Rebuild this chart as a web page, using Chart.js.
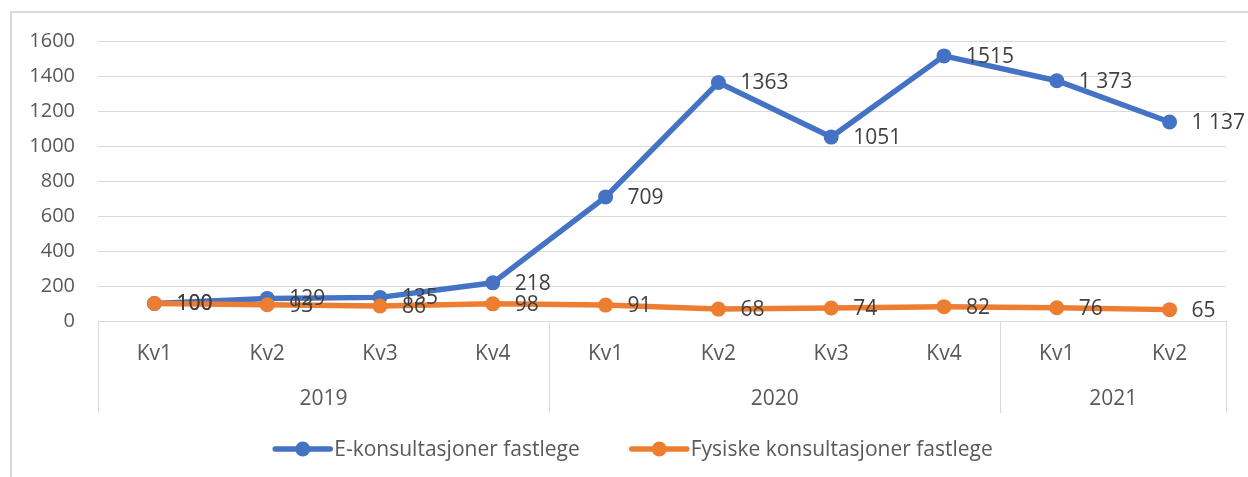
<!DOCTYPE html>
<html>
<head>
<meta charset="utf-8">
<script src="https://cdn.jsdelivr.net/npm/chart.js@4/dist/chart.umd.min.js"></script>
<style>
    html, body { margin: 0; padding: 0; background: #fff; }
    #wrap { position: relative; width: 1248px; height: 477px; overflow: hidden; }
    #frame { position: absolute; left: 10px; top: 11px; width: 1300px; height: 520px; border: 2px solid #d9d9d9; box-sizing: border-box; }
    #chart { position: absolute; left: 0; top: 0; }
</style>
</head>
<body>
<div id="wrap">
    <div id="frame"></div>
    <canvas id="chart" width="1248" height="477"></canvas>
</div>
<script>
// --- Data ---
const quarters = ['Kv1', 'Kv2', 'Kv3', 'Kv4', 'Kv1', 'Kv2', 'Kv3', 'Kv4', 'Kv1', 'Kv2'];
const years = ['2019', '2020', '2021'];
const quartersPerYear = [4, 4, 2];
const eKonsultasjoner = [100, 129, 135, 218, 709, 1363, 1051, 1515, 1373, 1137];
const fysiskeKonsultasjoner = [100, 93, 86, 98, 91, 68, 74, 82, 76, 65];
const eLabels = ['100', '129', '135', '218', '709', '1363', '1051', '1515', '1 373', '1 137'];
const fysiskeLabels = ['100', '93', '86', '98', '91', '68', '74', '82', '76', '65'];
const seriesNames = ['E-konsultasjoner fastlege', 'Fysiske konsultasjoner fastlege'];
const yMin = 0, yMax = 1600, yStep = 200;

const BLUE = '#4472c4';
const ORANGE = '#ed7d31';
const TEXT = '#595959';
const GRID = '#d9d9d9';
const FONT = '"Open Sans", sans-serif';

// Year row under the quarter labels, with separators
const yearGroups = {
    id: 'yearGroups',
    afterDraw(chart) {
        const ctx = chart.ctx;
        const x = chart.scales.x;
        const top = chart.chartArea.bottom;
        const bottom = top + 92;
        const bounds = [x.left];
        let idx = 0;
        quartersPerYear.forEach((n, i) => {
            idx += n;
            if (i < quartersPerYear.length - 1) {
                bounds.push((x.getPixelForValue(idx - 1) + x.getPixelForValue(idx)) / 2);
            } else {
                bounds.push(x.right);
            }
        });
        ctx.save();
        ctx.strokeStyle = GRID;
        ctx.lineWidth = 1;
        bounds.forEach(b => {
            const px = Math.round(b) + 0.5;
            ctx.beginPath();
            ctx.moveTo(px, top);
            ctx.lineTo(px, bottom);
            ctx.stroke();
        });
        ctx.fillStyle = TEXT;
        ctx.font = '21px ' + FONT;
        ctx.textAlign = 'center';
        ctx.textBaseline = 'middle';
        years.forEach((y, i) => {
            ctx.fillText(y, (bounds[i] + bounds[i + 1]) / 2, top + 78);
        });
        ctx.restore();
    }
};

// Value labels to the right of each point
const valueLabels = {
    id: 'valueLabels',
    afterDatasetsDraw(chart) {
        const ctx = chart.ctx;
        const labelSets = [eLabels, fysiskeLabels];
        ctx.save();
        ctx.fillStyle = '#404040';
        ctx.font = '21px ' + FONT;
        ctx.textAlign = 'left';
        ctx.textBaseline = 'middle';
        chart.data.datasets.forEach((ds, i) => {
            chart.getDatasetMeta(i).data.forEach((pt, j) => {
                ctx.fillText(labelSets[i][j], pt.x + 22, pt.y + 1);
            });
        });
        ctx.restore();
    }
};

// Legend with line + marker samples
const lineLegend = {
    id: 'lineLegend',
    afterDraw(chart) {
        const ctx = chart.ctx;
        const y = 449;
        const sample = 55, gapText = 4, gapItem = 52;
        ctx.save();
        ctx.font = '21px ' + FONT;
        const widths = seriesNames.map(s => ctx.measureText(s).width);
        const total = widths.reduce((a, w) => a + sample + gapText + w, 0) + gapItem;
        let x = 634 - total / 2;
        chart.data.datasets.forEach((ds, i) => {
            ctx.strokeStyle = ds.borderColor;
            ctx.lineWidth = 5.5;
            ctx.lineCap = 'round';
            ctx.beginPath();
            ctx.moveTo(x, y);
            ctx.lineTo(x + sample, y);
            ctx.stroke();
            ctx.fillStyle = ds.borderColor;
            ctx.beginPath();
            ctx.arc(x + sample / 2, y, 7.5, 0, Math.PI * 2);
            ctx.fill();
            ctx.fillStyle = TEXT;
            ctx.textAlign = 'left';
            ctx.textBaseline = 'middle';
            ctx.fillText(seriesNames[i], x + sample + gapText, y + 1);
            x += sample + gapText + widths[i] + gapItem;
        });
        ctx.restore();
    }
};

new Chart(document.getElementById('chart'), {
    type: 'line',
    data: {
        labels: quarters,
        datasets: [
            {
                label: seriesNames[0],
                data: eKonsultasjoner,
                borderColor: BLUE,
                backgroundColor: BLUE,
                pointBackgroundColor: BLUE,
                borderWidth: 5.5,
                pointRadius: 7.5,
                pointBorderWidth: 0,
                tension: 0,
                order: 1
            },
            {
                label: seriesNames[1],
                data: fysiskeKonsultasjoner,
                borderColor: ORANGE,
                backgroundColor: ORANGE,
                pointBackgroundColor: ORANGE,
                borderWidth: 5.5,
                pointRadius: 7.5,
                pointBorderWidth: 0,
                tension: 0,
                order: 0
            }
        ]
    },
    options: {
        responsive: false,
        animation: false,
        devicePixelRatio: 1,
        layout: { padding: { top: 41, right: 22, left: 0, bottom: 0 } },
        scales: {
            x: {
                offset: true,
                grid: { display: false, drawTicks: false },
                border: { display: true, color: GRID, width: 1 },
                ticks: { color: TEXT, font: { family: FONT, size: 21 }, padding: 20, maxRotation: 0 },
                afterFit: scale => { scale.height = 156; }
            },
            y: {
                min: yMin,
                max: yMax,
                grid: { color: GRID, drawTicks: false },
                border: { display: false },
                ticks: {
                    stepSize: yStep,
                    color: TEXT,
                    font: { family: FONT, size: 20 },
                    padding: 23,
                    callback: v => String(v)
                },
                afterFit: scale => { scale.width = 98; }
            }
        },
        plugins: {
            legend: { display: false },
            tooltip: { enabled: false }
        }
    },
    plugins: [valueLabels, yearGroups, lineLegend]
});
</script>
</body>
</html>
